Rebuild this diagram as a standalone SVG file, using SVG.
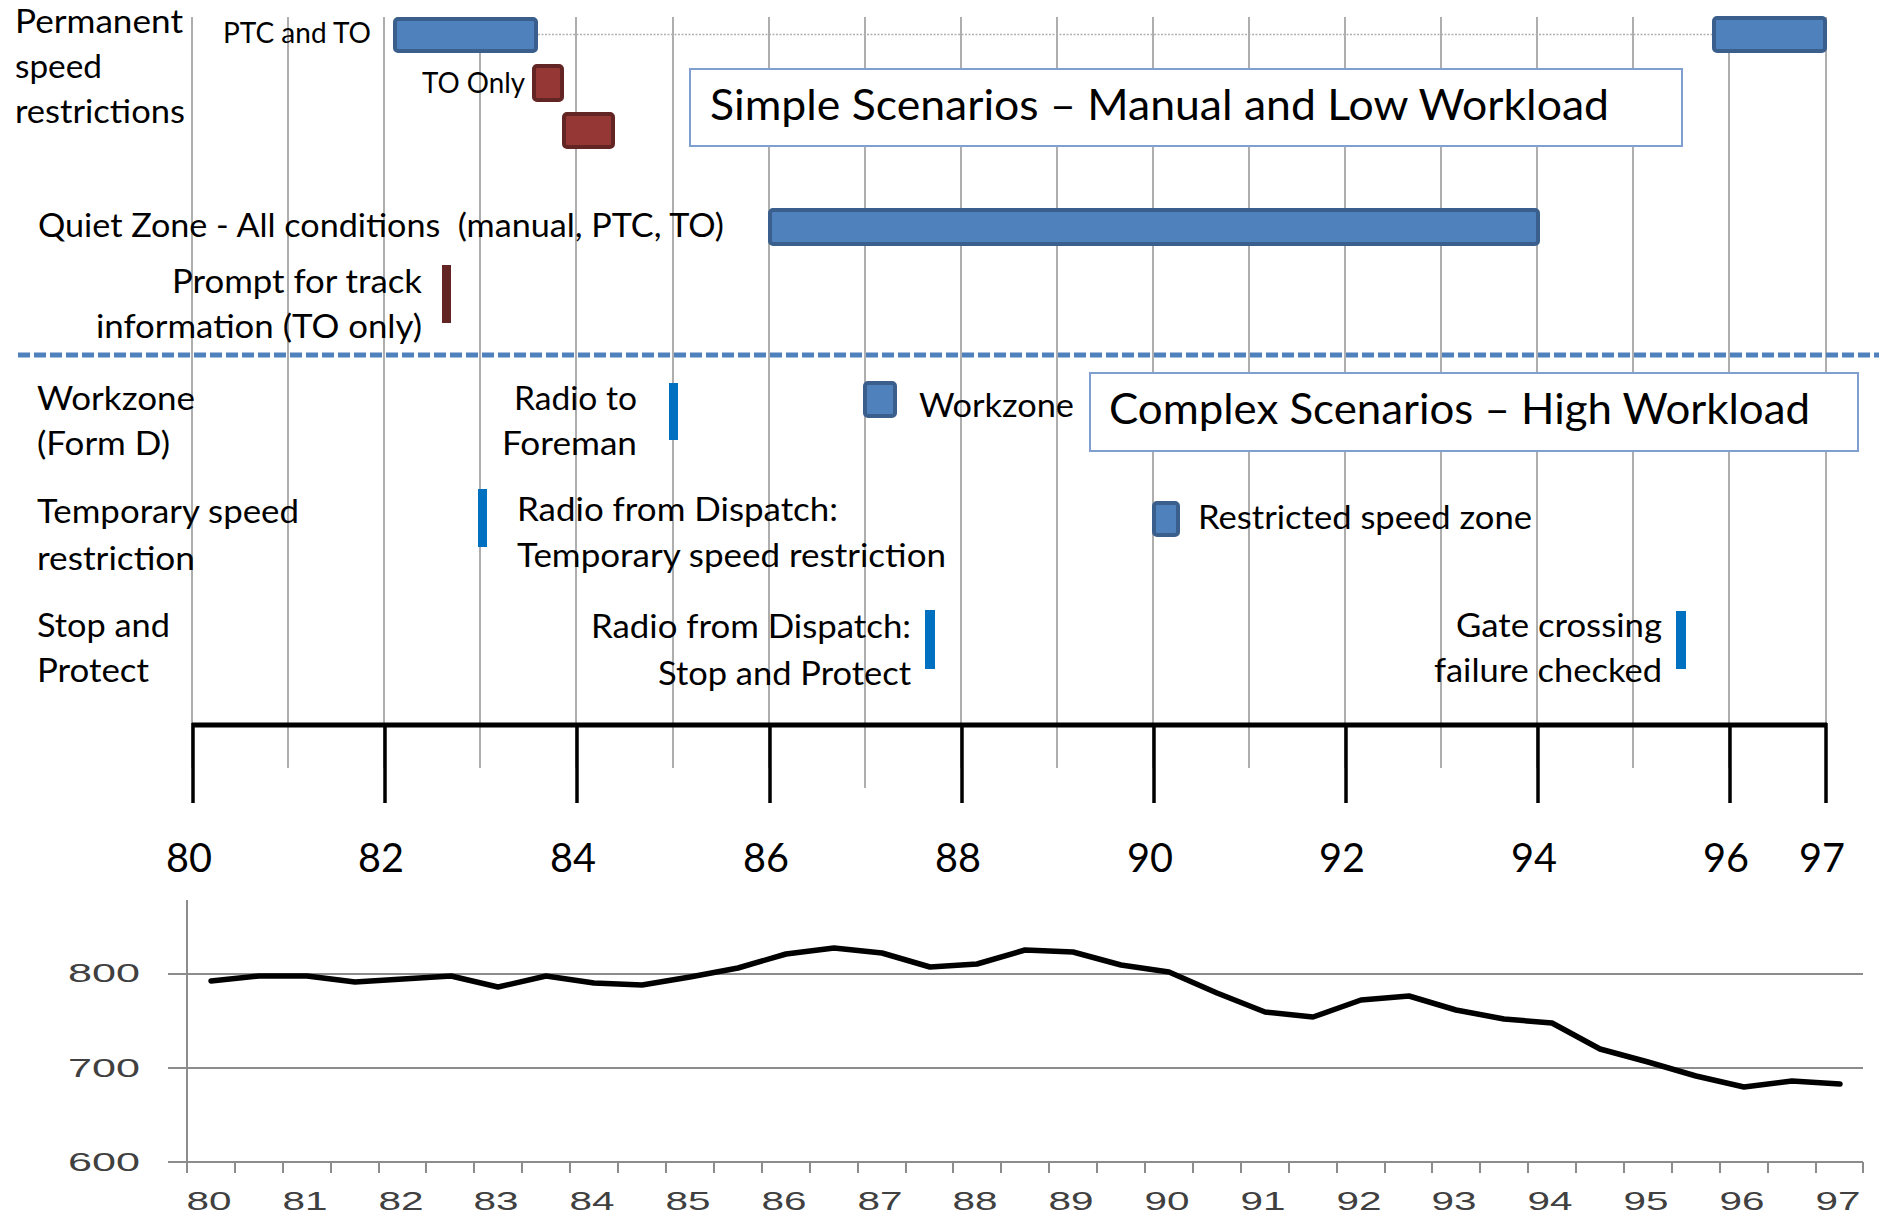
<svg xmlns="http://www.w3.org/2000/svg" width="1879" height="1213" viewBox="0 0 1879 1213">
  <style>
    .t { font-family: Lato, "Open Sans", "Liberation Sans", sans-serif; font-size: 33px; fill: #000; white-space: pre; }
    .sm { font-size: 28px; }
    .ttl { font-size: 42px; }
    .ax { font-size: 40px; }
    .ch { font-family: "Liberation Sans", Arial, sans-serif; font-size: 26px; fill: #404040; }
    .grid { stroke: #9a9a9a; stroke-width: 1.6; }
    .bar-b { fill: #4F81BD; stroke: #3A5F8C; stroke-width: 4; }
    .bar-r { fill: #953735; stroke: #632523; stroke-width: 4; }
    .mark { fill: #0070C0; }
    .box { fill: #fff; stroke: #7F9FD2; stroke-width: 2; }
    .cgrid { stroke: #8c8c8c; stroke-width: 2; fill: none; }
  </style>

  <rect width="1879" height="1213" fill="#fff"/>

  <!-- km gridlines of the timeline -->
  <g id="gridlines" class="grid">
    <line x1="192" y1="17" x2="192" y2="768"/>
    <line x1="288" y1="17" x2="288" y2="768"/>
    <line x1="384" y1="17" x2="384" y2="768"/>
    <line x1="480" y1="17" x2="480" y2="768"/>
    <line x1="576" y1="17" x2="576" y2="768"/>
    <line x1="673" y1="17" x2="673" y2="768"/>
    <line x1="769" y1="17" x2="769" y2="768"/>
    <line x1="865" y1="17" x2="865" y2="788"/>
    <line x1="961" y1="17" x2="961" y2="768"/>
    <line x1="1057" y1="17" x2="1057" y2="768"/>
    <line x1="1153" y1="17" x2="1153" y2="768"/>
    <line x1="1249" y1="17" x2="1249" y2="768"/>
    <line x1="1345" y1="17" x2="1345" y2="768"/>
    <line x1="1441" y1="17" x2="1441" y2="768"/>
    <line x1="1537" y1="17" x2="1537" y2="768"/>
    <line x1="1633" y1="17" x2="1633" y2="768"/>
    <line x1="1729" y1="17" x2="1729" y2="768"/>
    <line x1="1826" y1="17" x2="1826" y2="768"/>
  </g>

  <!-- permanent speed restrictions -->
  <g id="permanent">
    <text class="t" x="15" y="33" textLength="168" lengthAdjust="spacingAndGlyphs">Permanent</text>
    <text class="t" x="15" y="78" textLength="87" lengthAdjust="spacingAndGlyphs">speed</text>
    <text class="t" x="15" y="123" textLength="170" lengthAdjust="spacingAndGlyphs">restrictions</text>
    <text class="t sm" x="223" y="43" textLength="148" lengthAdjust="spacingAndGlyphs">PTC and TO</text>
    <line x1="538" y1="34.5" x2="1712" y2="34.5" stroke="#b0b0b0" stroke-width="1.5" stroke-dasharray="2 1.5"/>
    <rect class="bar-b" x="395" y="19" width="141" height="32" rx="3"/>
    <rect class="bar-b" x="1714" y="18" width="111" height="33" rx="3"/>
    <text class="t sm" x="422" y="93" textLength="103" lengthAdjust="spacingAndGlyphs">TO Only</text>
    <rect class="bar-r" x="534" y="66" width="28" height="34" rx="3"/>
    <rect class="bar-r" x="564" y="114" width="49" height="33" rx="3"/>
  </g>

  <g id="simple-title">
    <rect class="box" x="690" y="69" width="992" height="77"/>
    <text class="t ttl" x="710" y="120" textLength="899" lengthAdjust="spacingAndGlyphs">Simple Scenarios – Manual and Low Workload</text>
  </g>

  <g id="quiet-zone">
    <text class="t" x="38" y="237" textLength="686" lengthAdjust="spacingAndGlyphs">Quiet Zone - All conditions  (manual, PTC, TO)</text>
    <rect class="bar-b" x="770" y="210" width="768" height="34" rx="3"/>
  </g>

  <g id="prompt">
    <text class="t" x="422" y="293" text-anchor="end" textLength="250" lengthAdjust="spacingAndGlyphs">Prompt for track</text>
    <text class="t" x="422" y="338" text-anchor="end" textLength="326" lengthAdjust="spacingAndGlyphs">information (TO only)</text>
    <rect x="442" y="265" width="9" height="58" fill="#632523"/>
  </g>

  <!-- divider between simple and complex scenarios -->
  <line id="divider" x1="18" y1="355" x2="1879" y2="355" stroke="#4F81BD" stroke-width="5" stroke-dasharray="12 4"/>

  <g id="workzone">
    <text class="t" x="37" y="410" textLength="158" lengthAdjust="spacingAndGlyphs">Workzone</text>
    <text class="t" x="37" y="455" textLength="133" lengthAdjust="spacingAndGlyphs">(Form D)</text>
    <text class="t" x="637" y="410" text-anchor="end" textLength="123" lengthAdjust="spacingAndGlyphs">Radio to</text>
    <text class="t" x="637" y="455" text-anchor="end" textLength="135" lengthAdjust="spacingAndGlyphs">Foreman</text>
    <rect class="mark" x="669" y="383" width="9" height="57"/>
    <rect class="bar-b" x="865" y="383" width="30" height="33" rx="3"/>
    <text class="t" x="919" y="417" textLength="155" lengthAdjust="spacingAndGlyphs">Workzone</text>
  </g>

  <g id="complex-title">
    <rect class="box" x="1090" y="373" width="768" height="78"/>
    <text class="t ttl" x="1109" y="424" textLength="701" lengthAdjust="spacingAndGlyphs">Complex Scenarios – High Workload</text>
  </g>

  <g id="temp-speed">
    <text class="t" x="37" y="523" textLength="262" lengthAdjust="spacingAndGlyphs">Temporary speed</text>
    <text class="t" x="37" y="570" textLength="158" lengthAdjust="spacingAndGlyphs">restriction</text>
    <rect class="mark" x="478" y="489" width="9" height="58"/>
    <text class="t" x="517" y="521" textLength="321" lengthAdjust="spacingAndGlyphs">Radio from Dispatch:</text>
    <text class="t" x="517" y="567" textLength="429" lengthAdjust="spacingAndGlyphs">Temporary speed restriction</text>
    <rect class="bar-b" x="1154" y="503" width="24" height="32" rx="3"/>
    <text class="t" x="1198" y="529" textLength="334" lengthAdjust="spacingAndGlyphs">Restricted speed zone</text>
  </g>

  <g id="stop-protect">
    <text class="t" x="37" y="637" textLength="133" lengthAdjust="spacingAndGlyphs">Stop and</text>
    <text class="t" x="37" y="682" textLength="112" lengthAdjust="spacingAndGlyphs">Protect</text>
    <text class="t" x="911" y="638" text-anchor="end" textLength="320" lengthAdjust="spacingAndGlyphs">Radio from Dispatch:</text>
    <text class="t" x="911" y="685" text-anchor="end" textLength="253" lengthAdjust="spacingAndGlyphs">Stop and Protect</text>
    <rect class="mark" x="925" y="610" width="10" height="59"/>
    <text class="t" x="1662" y="637" text-anchor="end" textLength="206" lengthAdjust="spacingAndGlyphs">Gate crossing</text>
    <text class="t" x="1662" y="682" text-anchor="end" textLength="228" lengthAdjust="spacingAndGlyphs">failure checked</text>
    <rect class="mark" x="1676" y="611" width="10" height="58"/>
  </g>

  <!-- km axis of the timeline -->
  <g id="km-axis" stroke="#000" fill="none">
    <line x1="192" y1="725" x2="1827" y2="725" stroke-width="5"/>
    <g stroke-width="3.5">
      <line x1="193" y1="723" x2="193" y2="803"/>
      <line x1="385" y1="723" x2="385" y2="803"/>
      <line x1="577" y1="723" x2="577" y2="803"/>
      <line x1="770" y1="723" x2="770" y2="803"/>
      <line x1="962" y1="723" x2="962" y2="803"/>
      <line x1="1154" y1="723" x2="1154" y2="803"/>
      <line x1="1346" y1="723" x2="1346" y2="803"/>
      <line x1="1538" y1="723" x2="1538" y2="803"/>
      <line x1="1730" y1="723" x2="1730" y2="803"/>
      <line x1="1826" y1="723" x2="1826" y2="803"/>
    </g>
  </g>
  <g id="km-labels" class="t ax" text-anchor="middle">
    <text x="189" y="872" textLength="46" lengthAdjust="spacingAndGlyphs">80</text>
    <text x="381" y="872" textLength="46" lengthAdjust="spacingAndGlyphs">82</text>
    <text x="573" y="872" textLength="46" lengthAdjust="spacingAndGlyphs">84</text>
    <text x="766" y="872" textLength="46" lengthAdjust="spacingAndGlyphs">86</text>
    <text x="958" y="872" textLength="46" lengthAdjust="spacingAndGlyphs">88</text>
    <text x="1150" y="872" textLength="46" lengthAdjust="spacingAndGlyphs">90</text>
    <text x="1342" y="872" textLength="46" lengthAdjust="spacingAndGlyphs">92</text>
    <text x="1534" y="872" textLength="46" lengthAdjust="spacingAndGlyphs">94</text>
    <text x="1726" y="872" textLength="46" lengthAdjust="spacingAndGlyphs">96</text>
    <text x="1822" y="872" textLength="46" lengthAdjust="spacingAndGlyphs">97</text>
  </g>

  <!-- line chart -->
  <g id="chart">
    <g class="cgrid">
      <line x1="168" y1="974" x2="1863" y2="974"/>
      <line x1="168" y1="1068" x2="1863" y2="1068"/>
      <line x1="168" y1="1162" x2="1863" y2="1162"/>
      <line x1="187" y1="900" x2="187" y2="1173"/>
      <path d="M235 1162v11M283 1162v11M331 1162v11M379 1162v11M426 1162v11M474 1162v11M522 1162v11M570 1162v11M618 1162v11M666 1162v11M714 1162v11M762 1162v11M810 1162v11M858 1162v11M906 1162v11M953 1162v11M1001 1162v11M1049 1162v11M1097 1162v11M1145 1162v11M1193 1162v11M1241 1162v11M1289 1162v11M1337 1162v11M1385 1162v11M1432 1162v11M1480 1162v11M1528 1162v11M1576 1162v11M1624 1162v11M1672 1162v11M1720 1162v11M1768 1162v11M1816 1162v11M1863 1162v11"/>
    </g>
    <g class="ch" text-anchor="end">
      <text x="140" y="982" textLength="72" lengthAdjust="spacingAndGlyphs">800</text>
      <text x="140" y="1077" textLength="72" lengthAdjust="spacingAndGlyphs">700</text>
      <text x="140" y="1171" textLength="72" lengthAdjust="spacingAndGlyphs">600</text>
    </g>
    <g class="ch" text-anchor="middle">
      <text x="209" y="1210" textLength="45" lengthAdjust="spacingAndGlyphs">80</text>
      <text x="305" y="1210" textLength="45" lengthAdjust="spacingAndGlyphs">81</text>
      <text x="401" y="1210" textLength="45" lengthAdjust="spacingAndGlyphs">82</text>
      <text x="496" y="1210" textLength="45" lengthAdjust="spacingAndGlyphs">83</text>
      <text x="592" y="1210" textLength="45" lengthAdjust="spacingAndGlyphs">84</text>
      <text x="688" y="1210" textLength="45" lengthAdjust="spacingAndGlyphs">85</text>
      <text x="784" y="1210" textLength="45" lengthAdjust="spacingAndGlyphs">86</text>
      <text x="880" y="1210" textLength="45" lengthAdjust="spacingAndGlyphs">87</text>
      <text x="975" y="1210" textLength="45" lengthAdjust="spacingAndGlyphs">88</text>
      <text x="1071" y="1210" textLength="45" lengthAdjust="spacingAndGlyphs">89</text>
      <text x="1167" y="1210" textLength="45" lengthAdjust="spacingAndGlyphs">90</text>
      <text x="1263" y="1210" textLength="45" lengthAdjust="spacingAndGlyphs">91</text>
      <text x="1359" y="1210" textLength="45" lengthAdjust="spacingAndGlyphs">92</text>
      <text x="1454" y="1210" textLength="45" lengthAdjust="spacingAndGlyphs">93</text>
      <text x="1550" y="1210" textLength="45" lengthAdjust="spacingAndGlyphs">94</text>
      <text x="1646" y="1210" textLength="45" lengthAdjust="spacingAndGlyphs">95</text>
      <text x="1742" y="1210" textLength="45" lengthAdjust="spacingAndGlyphs">96</text>
      <text x="1838" y="1210" textLength="45" lengthAdjust="spacingAndGlyphs">97</text>
    </g>
    <polyline fill="none" stroke="#000" stroke-width="5.5" stroke-linejoin="round" stroke-linecap="round"
      points="211,981 259,976 307,976 355,982 403,979 451,976 498,987 546,976 594,983 642,985 690,977 738,968 786,954 834,948 882,953 930,967 977,964 1025,950 1073,952 1121,965 1169,972 1217,993 1265,1012 1313,1017 1361,1000 1409,996 1456,1010 1504,1019 1552,1023 1600,1049 1648,1062 1696,1076 1744,1087 1792,1081 1840,1084"/>
  </g>
</svg>
